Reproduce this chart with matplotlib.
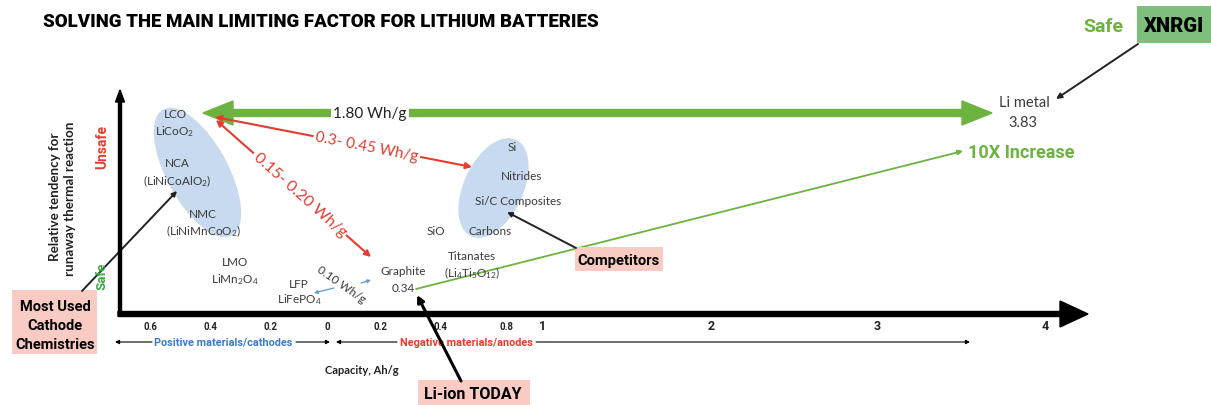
import matplotlib.pyplot as plt
from matplotlib.patches import Ellipse, Rectangle

plt.rcParams['mathtext.fontset'] = 'custom'
plt.rcParams['mathtext.rm'] = 'Lato'
plt.rcParams['mathtext.it'] = 'Lato:italic'
plt.rcParams['mathtext.bf'] = 'Lato:bold'

NARROW = ['Roboto', 'DejaVu Sans']
BODY = ['Lato', 'DejaVu Sans']

GREEN = '#6cb33f'
BOXGREEN = '#7dbf7b'
RED = '#e63b2e'
BLUE = '#3b7cc4'
ARROWBLUE = '#5b9bd5'
PINK = '#f9cbc3'
BLOB = '#c7daef'
GREY = '#3a3a3a'

# ---- data ----
title = 'SOLVING THE MAIN LIMITING FACTOR FOR LITHIUM BATTERIES'

# capacity axis labels (Ah/g); cathodes read right-to-left, anodes left-to-right
minor_ticks = ['0.6', '0.4', '0.2', '0', '0.2', '0.4', '0.8']
major_ticks = ['1', '2', '3', '4']

# materials: first line, second line
mat_top = ['LCO', 'NCA', 'NMC', 'LMO', 'LFP', 'Graphite', 'Titanates']
mat_bottom = ['LiCoO$_2$', '(LiNiCoAlO$_2$)', '(LiNiMnCoO$_2$)', 'LiMn$_2$O$_4$',
              'LiFePO$_4$', '0.34', '(Li$_4$Ti$_5$O$_{12}$)']
anodes_new = ['Si', 'Nitrides', 'Si/C Composites', 'Carbons', 'SiO']

# energy gains
gain_full = '1.80 Wh/g'
gain_si = '0.3- 0.45 Wh/g'
gain_graphite = '0.15- 0.20 Wh/g'
gain_lfp = '0.10 Wh/g'
li_metal = ['Li metal', '3.83']

# ---- layout (pixel canvas) ----
minor_x = [150, 210, 271, 327, 380, 440, 507]
major_x = [543, 711, 877, 1045]
mat_xy = [(175, 115, 132), (177, 164, 181), (203, 215, 231), (235, 263, 280),
          (299, 285, 300), (403, 272, 289), (472, 256, 273)]
anew_xy = [(512, 148), (522, 177), (518, 202), (490, 232), (436, 232)]

W, H = 1211, 406
fig = plt.figure(figsize=(W / 100, H / 100), dpi=100)
ax = fig.add_axes([0, 0, 1, 1])
ax.set_xlim(0, W)
ax.set_ylim(H, 0)
ax.axis('off')


def arrow(p0, p1, color, lw, style='-|>', ms=10, z=2):
    ax.annotate('', xy=p1, xytext=p0, zorder=z,
                arrowprops=dict(arrowstyle=style, color=color, lw=lw,
                                shrinkA=0, shrinkB=0, mutation_scale=ms))


# title
ax.text(43, 22, title, fontsize=13.4, fontweight='heavy', family=NARROW,
        ha='left', va='center', color='black')

# blobs
ax.add_patch(Ellipse((197.5, 173.5), 142, 60, angle=61.4, color=BLOB, zorder=1))
ax.add_patch(Ellipse((493.5, 189), 105, 58, angle=-65, color=BLOB, zorder=1))

# axes
ax.arrow(118, 315, 970, 0, width=5, head_width=26, head_length=28,
         length_includes_head=True, fc='black', ec='black', zorder=3)
ax.arrow(120, 317, 0, -226, width=3, head_width=9, head_length=12,
         length_includes_head=True, fc='black', ec='black', zorder=3)

# tick labels
for lab, x in zip(minor_ticks, minor_x):
    ax.text(x, 327, lab, fontsize=7, fontweight='bold', family=NARROW,
            ha='center', va='center', color='#222222')
for lab, x in zip(major_ticks, major_x):
    ax.text(x, 327, lab, fontsize=9, fontweight='bold', family=NARROW,
            ha='center', va='center', color='#222222')

# cathode / anode ranges
ax.text(223, 343, 'Positive materials/cathodes', fontsize=7.8, fontweight='bold',
        family=NARROW, color=BLUE, ha='center', va='center')
arrow((152, 343), (115, 343), 'black', 0.8, ms=6)
arrow((296, 343), (330, 343), 'black', 0.8, ms=6)
ax.text(466, 343, 'Negative materials/anodes', fontsize=7.8, fontweight='bold',
        family=NARROW, color=RED, ha='center', va='center')
arrow((397, 343), (336, 343), 'black', 0.8, ms=6)
arrow((536, 343), (970, 343), 'black', 0.8, ms=6)
ax.text(362, 371, 'Capacity, Ah/g', fontsize=8, fontweight='bold', family=BODY,
        ha='center', va='center', color='#222222')

# y label
ax.text(55, 197, 'Relative tendency for', fontsize=9.6, fontweight='bold',
        family=BODY, rotation=90, ha='center', va='center', color='#222222')
ax.text(70, 199, 'runaway thermal reaction', fontsize=9.6, fontweight='bold',
        family=BODY, rotation=90, ha='center', va='center', color='#222222')
ax.text(102, 147, 'Unsafe', fontsize=10, fontweight='bold', family=NARROW,
        rotation=90, ha='center', va='center', color=RED)
ax.text(102, 276, 'Safe', fontsize=9.5, fontweight='bold', family=NARROW,
        rotation=90, ha='center', va='center', color='#3aa846')

# materials
for top, bot, (x, y1, y2) in zip(mat_top, mat_bottom, mat_xy):
    ax.text(x, y1, top, fontsize=8.5, family=BODY, color=GREY,
            ha='center', va='center', zorder=4)
    ax.text(x, y2, bot, fontsize=8.5, family=BODY, color=GREY,
            ha='center', va='center', zorder=4)
for lab, (x, y) in zip(anodes_new, anew_xy):
    ax.text(x, y, lab, fontsize=8.5, family=BODY, color=GREY,
            ha='center', va='center', zorder=4)

# big green gain arrow (LCO <-> Li metal)
ax.arrow(370, 114, 203 - 370, 0, width=7, head_width=24, head_length=30,
         length_includes_head=True, fc=GREEN, ec=GREEN, zorder=2)
ax.arrow(370, 114, 992 - 370, 0, width=7, head_width=24, head_length=30,
         length_includes_head=True, fc=GREEN, ec=GREEN, zorder=2)
ax.text(370, 114, gain_full, fontsize=11, family=BODY, color='#222222',
        ha='center', va='center', zorder=4,
        bbox=dict(fc='white', ec='none', pad=2))
ax.text(1024, 103, li_metal[0], fontsize=10.5, family=BODY, color=GREY,
        ha='center', va='center')
ax.text(1023, 123, li_metal[1], fontsize=10.5, family=BODY, color=GREY,
        ha='center', va='center')

# red gain arrows
arrow((472, 168), (215, 118), RED, 1.5, style='<|-|>', ms=9)
ax.text(367, 147, gain_si, fontsize=11, family=BODY, color=RED,
        rotation=-11.1, rotation_mode='anchor', ha='center', va='center',
        zorder=4, bbox=dict(fc='white', ec='none', pad=1.5))
arrow((371, 258), (216, 121), RED, 1.5, style='<|-|>', ms=9)
ax.text(300, 195, gain_graphite, fontsize=11.5, family=BODY, color=RED,
        rotation=-41.6, rotation_mode='anchor', ha='center', va='center',
        zorder=4, bbox=dict(fc='white', ec='none', pad=1.5))

# LFP -> graphite
arrow((334, 289), (314, 294), ARROWBLUE, 0.9, ms=5)
arrow((361, 284), (371, 281), ARROWBLUE, 0.9, ms=5)
ax.text(341, 285, gain_lfp, fontsize=8.5, family=BODY, color=GREY,
        rotation=-35, rotation_mode='anchor', ha='center', va='center', zorder=4)

# 10x increase
arrow((416, 290), (963, 152), GREEN, 1.3, ms=7)
ax.text(1021, 153, '10X Increase', fontsize=13, fontweight='bold',
        family=NARROW, color=GREEN, ha='center', va='center')

# XNRGI callout
ax.add_patch(Rectangle((1137, 7), 80, 37, fc=BOXGREEN, ec='none', zorder=2))
ax.text(1174, 26, 'XNRGI', fontsize=14.5, fontweight='heavy', family=NARROW,
        color='black', ha='center', va='center', zorder=3)
ax.text(1103, 27, 'Safe', fontsize=14, fontweight='bold', family=NARROW,
        color=GREEN, ha='center', va='center')
arrow((1138, 45), (1056, 100), '#222222', 1.4, ms=8)

# competitors callout
ax.add_patch(Rectangle((575, 248), 88, 24, fc=PINK, ec='none', zorder=2))
ax.text(619, 261, 'Competitors', fontsize=10.6, fontweight='bold', family=NARROW,
        color='black', ha='center', va='center', zorder=3)
arrow((576, 249), (507, 213), '#222222', 1.4, ms=7)

# most used cathodes callout
ax.add_patch(Rectangle((12, 291), 85, 64, fc=PINK, ec='none', zorder=2))
for line, y in zip(['Most Used', 'Cathode', 'Chemistries'], [307, 326, 345]):
    ax.text(55, y, line, fontsize=10.5, fontweight='bold', family=NARROW,
            color='black', ha='center', va='center', zorder=3)
arrow((82, 292), (177, 192), '#222222', 1.4, ms=7)

# Li-ion today callout
ax.add_patch(Rectangle((418, 381), 112, 30, fc=PINK, ec='none', zorder=2))
ax.text(473, 395, 'Li-ion TODAY', fontsize=11.5, fontweight='bold',
        family=NARROW, color='black', ha='center', va='center', zorder=3)
arrow((461, 382), (417, 296), 'black', 2.2, ms=10, z=5)

fig.savefig('out.png', dpi=100)
